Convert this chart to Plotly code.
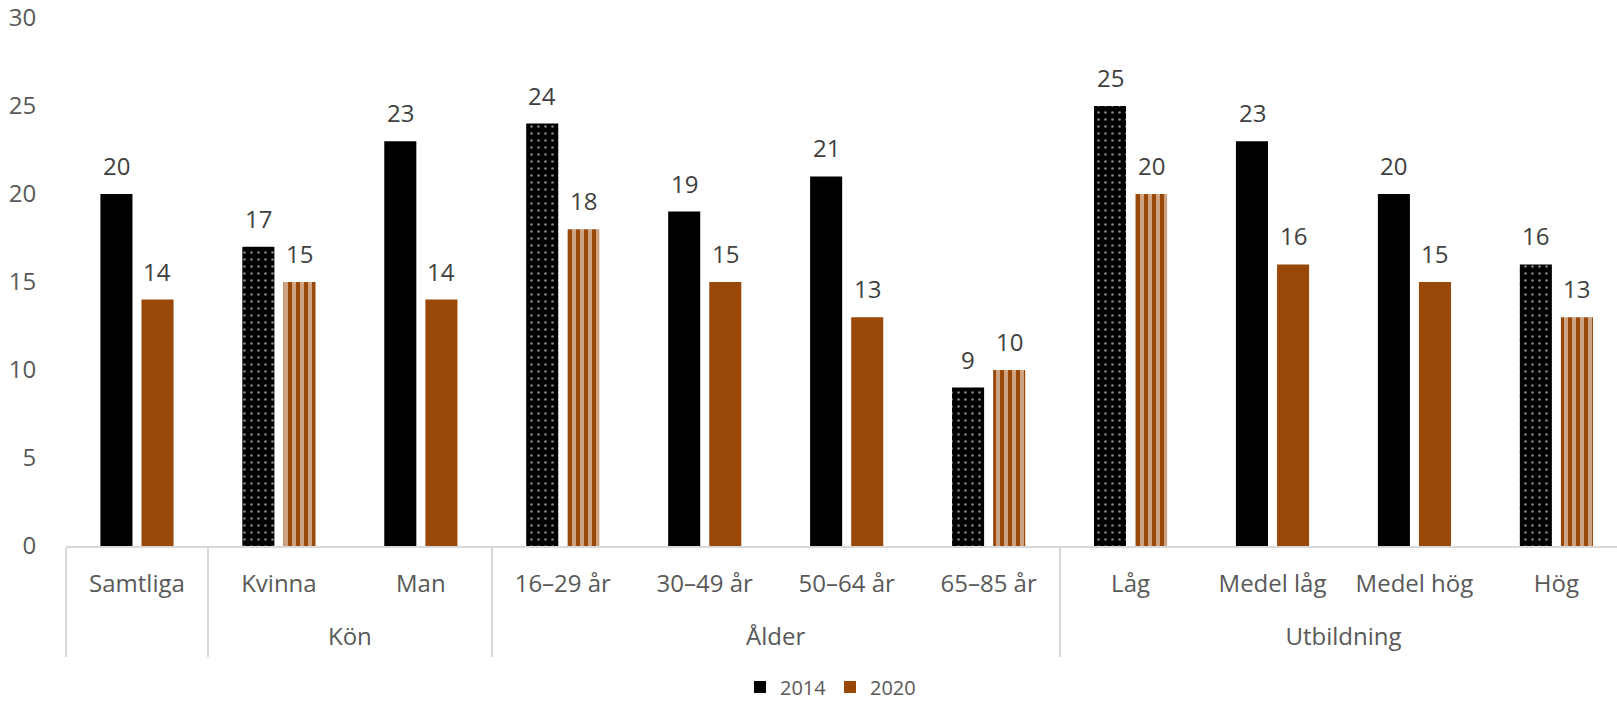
import plotly.graph_objects as go

groups = [" ", "Kön", "Kön", "Ålder", "Ålder", "Ålder", "Ålder",
          "Utbildning", "Utbildning", "Utbildning", "Utbildning"]
categories = ["Samtliga", "Kvinna", "Man", "16–29 år", "30–49 år", "50–64 år",
              "65–85 år", "Låg", "Medel låg", "Medel hög", "Hög"]
values_2014 = [20, 17, 23, 24, 19, 21, 9, 25, 23, 20, 16]
values_2020 = [14, 15, 14, 18, 15, 13, 10, 20, 16, 15, 13]
patterned = [False, True, False, True, False, False, True, True, False, False, True]
y_ticks = [0, 5, 10, 15, 20, 25, 30]

C2014 = "#000000"
C2020 = "#994807"
FONT = "Open Sans"


def spaced(label, size):
    # invisible taller spacer on both sides: keeps the label centred, only enlarges its line box
    sp = "<span style='font-size:%dpx'>\u00a0</span>" % size
    return sp + label + sp


x_labels = [[spaced(g, 36) for g in groups], [spaced(c, 49) for c in categories]]

shapes_2014 = ["." if p else "" for p in patterned]
shapes_2020 = ["|" if p else "" for p in patterned]

fig = go.Figure()
fig.add_trace(go.Bar(
    name="2014", x=x_labels, y=values_2014,
    marker=dict(color=C2014, line=dict(width=0),
                pattern=dict(shape=shapes_2014, fgcolor="white", size=7,
                             solidity=0.12, fillmode="overlay")),
    hoverinfo="y",
))
fig.add_trace(go.Bar(
    name="2020", x=x_labels, y=values_2020,
    marker=dict(color=C2020, line=dict(width=0),
                pattern=dict(shape=shapes_2020, fgcolor="white", size=8,
                             solidity=0.5, fillmode="overlay")),
    hoverinfo="y",
))

annotations = []
for i, (a, b) in enumerate(zip(values_2014, values_2020)):
    for v, dx in ((a, -20.5), (b, 20.5)):
        annotations.append(dict(
            x=i, y=v, xref="x", yref="y", text=str(v), showarrow=False,
            xshift=dx, yshift=28.5, yanchor="middle", xanchor="center",
            font=dict(family=FONT, size=24, color="#404040"),
        ))

fig.update_layout(
    width=1617, height=701,
    margin=dict(l=66, r=0, t=18, b=155, autoexpand=False),
    paper_bgcolor="white", plot_bgcolor="white",
    bargap=0.421, bargroupgap=0.22,
    font=dict(family=FONT, color="#595959"),
    showlegend=True,
    legend=dict(orientation="h", xref="container", yref="container",
                x=740 / 1617, y=0.02, xanchor="left", yanchor="middle",
                font=dict(family=FONT, size=20, color="#595959"),
                entrywidth=45),
    annotations=annotations,
)
fig.update_xaxes(
    range=[-0.5, 10.427], automargin=False, tickangle=0,
    showline=True, linecolor="#d9d9d9", linewidth=2,
    showdividers=True, dividercolor="#d9d9d9", dividerwidth=1.5,
    showgrid=False, zeroline=False,
    ticks="", ticklabelstandoff=15,
    tickfont=dict(family=FONT, size=24, color="#595959"),
)
fig.update_yaxes(
    range=[0, 30], tickvals=y_ticks, automargin=False,
    showgrid=False, zeroline=False, showline=False,
    ticks="outside", ticklen=24, tickcolor="rgba(0,0,0,0)",
    tickfont=dict(family=FONT, size=24, color="#595959"),
)

fig.write_html("out.html", config={"displayModeBar": False},
               post_script="document.body.style.margin='0';document.body.style.overflow='hidden';")
